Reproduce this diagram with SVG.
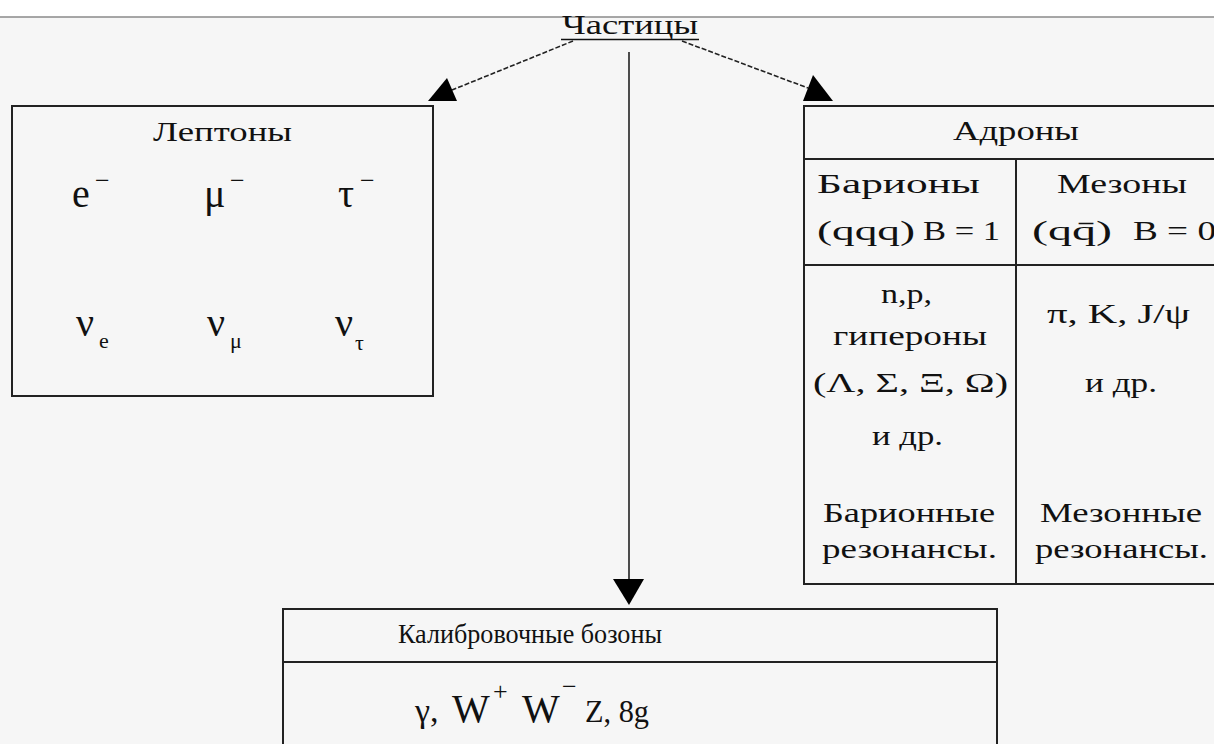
<svg xmlns="http://www.w3.org/2000/svg" width="1214" height="744" viewBox="0 0 1214 744">
<style>
text{font-family:"Liberation Serif","DejaVu Serif",serif;fill:#111;}
.t{font-size:28px;}
.big{font-size:40px;}
.sup{font-size:26px;}
.sub{font-size:22px;}
.box{fill:none;stroke:#222;stroke-width:2;}
.div{stroke:#222;stroke-width:2;}
.dash{stroke:#222;stroke-width:1.6;stroke-dasharray:5 2;fill:none;}
.solid{stroke:#222;stroke-width:1.6;fill:none;}
.head{fill:#000;stroke:none;}
</style>
<rect x="0" y="0" width="1214" height="744" fill="#f6f6f6"/>
<rect x="0" y="0" width="1214" height="17" fill="#ffffff"/>
<line x1="0" y1="17" x2="1214" y2="17" stroke="#8a8a8a" stroke-width="1.5"/>

<g id="connectors">
  <line class="dash" x1="573" y1="41" x2="452" y2="90"/>
  <polygon class="head" points="447,78 428,101 457,101"/>
  <line class="dash" x1="682" y1="41" x2="808" y2="88"/>
  <polygon class="head" points="813,75 803,101 833,101"/>
  <line class="solid" x1="629" y1="52" x2="629" y2="590"/>
  <polygon class="head" points="613,579 644,579 629,605"/>
</g>

<g id="particles">
  <text class="t" x="562" y="34" textLength="136" lengthAdjust="spacingAndGlyphs">Частицы</text>
  <line x1="561" y1="39.5" x2="699" y2="39.5" stroke="#111" stroke-width="1.5"/>
</g>

<g id="leptons">
  <rect class="box" x="12" y="106" width="421" height="290"/>
  <text class="t" x="153" y="141" textLength="139" lengthAdjust="spacingAndGlyphs">Лептоны</text>
  <text class="big" x="72" y="207">e</text>
  <text class="sup" x="95" y="189">−</text>
  <text class="big" x="204" y="207">μ</text>
  <text class="sup" x="230" y="189">−</text>
  <text class="big" x="338" y="207">τ</text>
  <text class="sup" x="360" y="189">−</text>
  <text class="big" x="76" y="336">ν</text>
  <text class="sub" x="99" y="348">e</text>
  <text class="big" x="207" y="336">ν</text>
  <text class="sub" x="230" y="348">μ</text>
  <text class="big" x="335" y="336">ν</text>
  <text class="sub" x="355" y="350">τ</text>
</g>

<g id="hadrons">
  <rect class="box" x="804" y="106" width="420" height="478"/>
  <line class="div" x1="804" y1="159" x2="1214" y2="159"/>
  <line class="div" x1="804" y1="265" x2="1214" y2="265"/>
  <line class="div" x1="1016" y1="159" x2="1016" y2="584"/>
  <text class="t" x="953" y="140" textLength="126" lengthAdjust="spacingAndGlyphs">Адроны</text>
  <text class="t" x="817" y="193" textLength="163" lengthAdjust="spacingAndGlyphs">Барионы</text>
  <text class="t" x="817" y="240" textLength="98" lengthAdjust="spacingAndGlyphs">(qqq)</text>
  <text class="t" x="923" y="240" textLength="77" lengthAdjust="spacingAndGlyphs">B = 1</text>
  <text class="t" x="1057" y="193" textLength="130" lengthAdjust="spacingAndGlyphs">Мезоны</text>
  <text class="t" x="1032" y="240" textLength="80" lengthAdjust="spacingAndGlyphs">(qq̄)</text>
  <text class="t" x="1133" y="240" textLength="83" lengthAdjust="spacingAndGlyphs">B = 0</text>
  <text class="t" x="881" y="303" textLength="51" lengthAdjust="spacingAndGlyphs">n,p,</text>
  <text class="t" x="833" y="345" textLength="154" lengthAdjust="spacingAndGlyphs">гипероны</text>
  <text class="t" x="813" y="392" textLength="195" lengthAdjust="spacingAndGlyphs">(Λ, Σ, Ξ, Ω)</text>
  <text class="t" x="872" y="445" textLength="71" lengthAdjust="spacingAndGlyphs">и др.</text>
  <text class="t" x="823" y="522" textLength="172" lengthAdjust="spacingAndGlyphs">Барионные</text>
  <text class="t" x="822" y="558" textLength="175" lengthAdjust="spacingAndGlyphs">резонансы.</text>
  <text class="t" x="1047" y="323" textLength="143" lengthAdjust="spacingAndGlyphs">π, K, J/ψ</text>
  <text class="t" x="1085" y="392" textLength="72" lengthAdjust="spacingAndGlyphs">и др.</text>
  <text class="t" x="1040" y="522" textLength="162" lengthAdjust="spacingAndGlyphs">Мезонные</text>
  <text class="t" x="1035" y="558" textLength="173" lengthAdjust="spacingAndGlyphs">резонансы.</text>
</g>

<g id="bosons">
  <rect class="box" x="283" y="609" width="714" height="145"/>
  <line class="div" x1="283" y1="662" x2="997" y2="662"/>
  <text class="t" x="398" y="643" textLength="264" lengthAdjust="spacingAndGlyphs">Калибровочные бозоны</text>
  <text x="415" y="722" font-size="34">γ,</text>
  <text x="452" y="722" font-size="40">W<tspan x="493" dy="-22" font-size="26">+</tspan><tspan x="522" dy="22" font-size="40">W</tspan><tspan x="562" dy="-27" font-size="26">−</tspan></text>
  <text x="585" y="722" font-size="32" textLength="64" lengthAdjust="spacingAndGlyphs">Z, 8g</text>
</g>
</svg>
